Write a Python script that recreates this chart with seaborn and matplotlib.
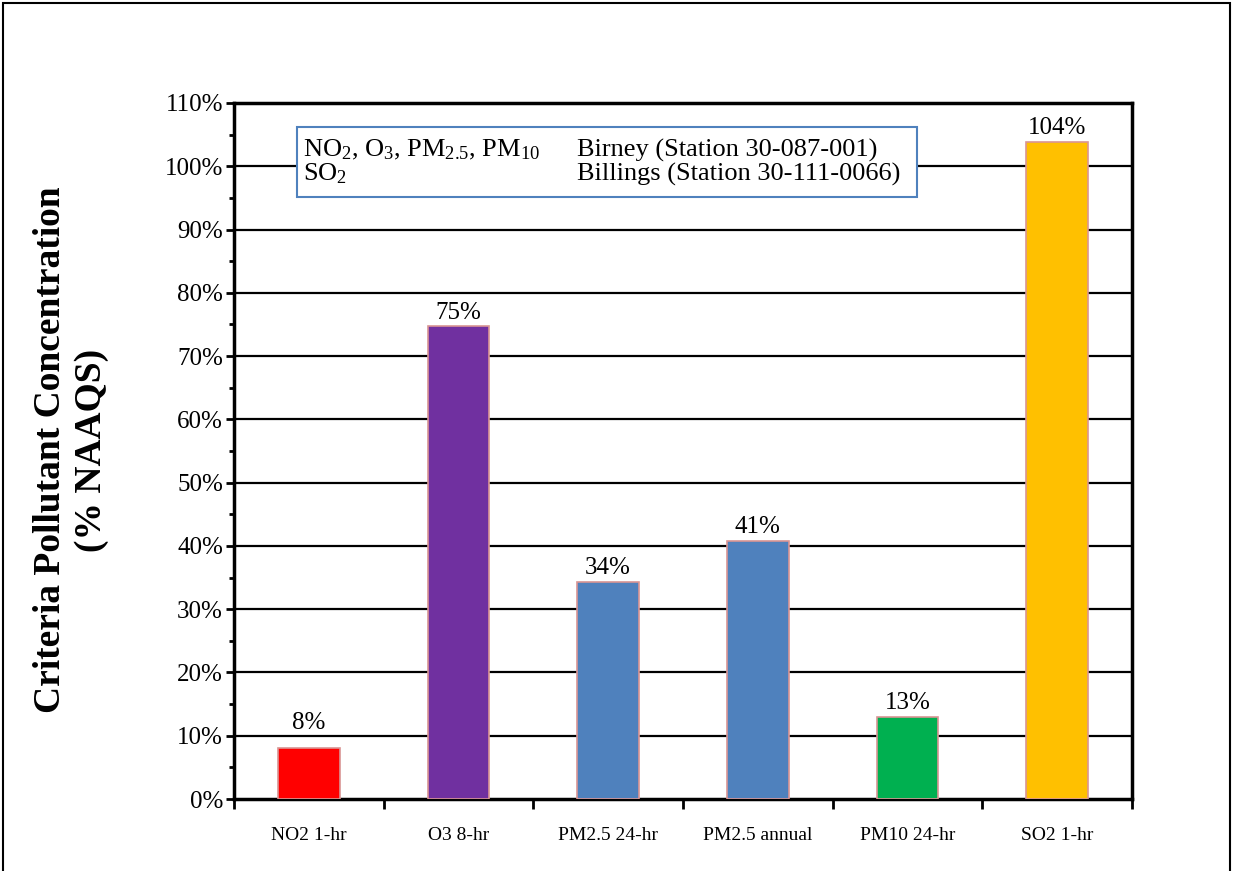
import matplotlib
matplotlib.use("Agg")
import matplotlib.pyplot as plt
import seaborn as sns
import pandas as pd
from matplotlib.patches import Rectangle
from matplotlib.ticker import MultipleLocator, FuncFormatter, FixedLocator

categories = ["NO2 1-hr", "O3 8-hr", "PM2.5 24-hr", "PM2.5 annual", "PM10 24-hr", "SO2 1-hr"]
values = [0.080, 0.747, 0.343, 0.408, 0.130, 1.039]
bar_colors = ["#FF0000", "#7030A0", "#4F81BD", "#4F81BD", "#00B050", "#FFC000"]
y_label = "Criteria Pollutant Concentration\n(% NAAQS)"
note_left = "NO$_2$, O$_3$, PM$_{2.5}$, PM$_{10}$\nSO$_2$"
note_right = "Birney (Station 30-087-001)\nBillings (Station 30-111-0066)"

sns.set_theme(style="white")
plt.rcParams["font.family"] = ["Liberation Serif", "DejaVu Serif"]
plt.rcParams["mathtext.fontset"] = "custom"
plt.rcParams["mathtext.rm"] = "Liberation Serif"
plt.rcParams["mathtext.it"] = "Liberation Serif:italic"
plt.rcParams["mathtext.bf"] = "Liberation Serif:bold"
plt.rcParams["text.color"] = "black"
plt.rcParams["xtick.color"] = "black"
plt.rcParams["ytick.color"] = "black"

df = pd.DataFrame({"cat": categories, "val": values})

fig = plt.figure(figsize=(12.33, 8.71), dpi=100)
ax = fig.add_axes([234/1233, 1 - 799/871, (1132-234)/1233, (799-103)/871])

sns.barplot(data=df, x="cat", y="val", hue="cat", palette=bar_colors, dodge=False,
            saturation=1, legend=False, width=0.41, edgecolor="#D99594", linewidth=1.2,
            ax=ax, zorder=3)

for c in ax.containers:
    vals = list(c.datavalues)
    small = [f"{v*100:.0f}%" if v < 0.1 else "" for v in vals]
    big = [f"{v*100:.0f}%" if v >= 0.1 else "" for v in vals]
    ax.bar_label(c, labels=big, fontsize=18, padding=2)
    ax.bar_label(c, labels=small, fontsize=18, padding=10)

ax.set_xlim(-0.5, 5.5)
ax.set_ylim(0, 1.10)
ax.yaxis.set_major_locator(MultipleLocator(0.10))
ax.yaxis.set_minor_locator(MultipleLocator(0.05))
ax.yaxis.set_major_formatter(FuncFormatter(lambda v, p: f"{v*100:.0f}%"))
ax.tick_params(axis="y", which="major", direction="out", length=6, width=2, left=True, labelsize=18, pad=2)
ax.tick_params(axis="y", which="minor", direction="out", length=3.5, width=2, left=True)

ax.xaxis.set_major_locator(FixedLocator([i - 0.5 for i in range(7)]))
ax.xaxis.set_minor_locator(FixedLocator(list(range(6))))
ax.xaxis.set_major_formatter(FuncFormatter(lambda v, p: ""))
ax.xaxis.set_minor_formatter(FuncFormatter(lambda v, p: categories[int(round(v))] if 0 <= round(v) < 6 else ""))
ax.tick_params(axis="x", which="major", direction="out", length=7, width=2, bottom=True)
ax.tick_params(axis="x", which="minor", length=0, labelsize=14, pad=20)
ax.set_xlabel("")
ax.set_ylabel("")

ax.grid(False)
for yv in [i / 10 for i in range(1, 12)]:
    ax.axhline(yv, color="black", lw=1.6, zorder=1)

for s in ax.spines.values():
    s.set_visible(True)
    s.set_color("black")
    s.set_linewidth(2.5)

fig.text(71/1233, 1 - 450/871, y_label, rotation=90, ha="center", va="center",
         multialignment="center", fontsize=27, fontweight="bold", linespacing=1.25)

# note box
box_x0, box_x1 = (297-234)/898, (917-234)/898
box_y1, box_y0 = 1 - (127-103)/696, 1 - (197-103)/696
ax.add_patch(Rectangle((box_x0, box_y0), box_x1 - box_x0, box_y1 - box_y0, transform=ax.transAxes,
                       facecolor="white", edgecolor="#4F81BD", lw=1.5, zorder=5))
ymid = (box_y0 + box_y1) / 2
ax.text((303-234)/898, ymid, note_left, transform=ax.transAxes, fontsize=19,
        va="center", ha="left", zorder=6, linespacing=1.0)
ax.text((577-234)/898, ymid, note_right, transform=ax.transAxes, fontsize=19,
        va="center", ha="left", zorder=6, linespacing=1.05)

# outer frame
fig.patches.append(Rectangle((3/1233, -0.1), (1230-3)/1233, 1.1 - 3/871, transform=fig.transFigure,
                             fill=False, edgecolor="black", lw=1.5))

fig.savefig("out.png", dpi=100)
